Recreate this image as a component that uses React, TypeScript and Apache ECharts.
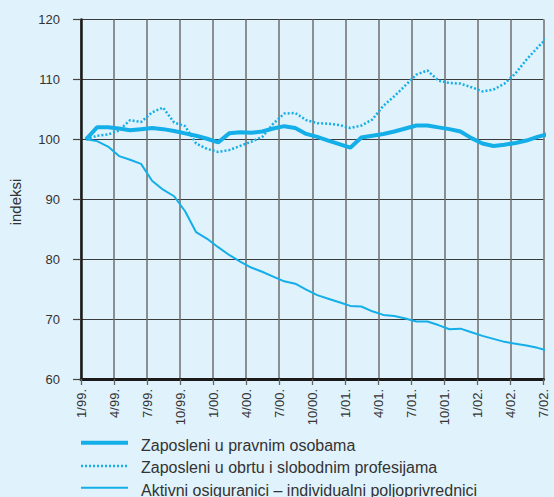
import React, { useEffect, useRef } from "react";
import * as echarts from "echarts";

const tickLabels = ["1/99.", "4/99.", "7/99.", "10/99.", "1/00.", "4/00.", "7/00.", "10/00.", "1/01.", "4/01.", "7/01.", "10/01.", "1/02.", "4/02.", "7/02."];

const seriesNames = [
  "Zaposleni u pravnim osobama",
  "Zaposleni u obrtu i slobodnim profesijama",
  "Aktivni osiguranici – individualni poljoprivrednici",
];

// monthly index values, 1/99. to 7/02.
const pravneOsobe = [
  100, 102, 102, 101.8, 101.5, 101.7, 101.9, 101.7, 101.4, 101.0,
  100.6, 100.1, 99.5, 101.0, 101.2, 101.1, 101.3, 101.8, 102.2, 101.9,
  100.9, 100.4, 99.8, 99.2, 98.6, 100.3, 100.6, 100.9, 101.3, 101.8,
  102.3, 102.3, 102.0, 101.7, 101.3, 100.2, 99.3, 98.9, 99.1, 99.4,
  99.8, 100.4, 100.9,
];

const obrt = [
  100, 100.6, 100.8, 101.5, 103.2, 102.9, 104.5, 105.3, 102.8, 102.2,
  99.3, 98.4, 97.9, 98.2, 98.9, 99.6, 100.4, 102.6, 104.3, 104.4,
  103.2, 102.7, 102.6, 102.4, 101.9, 102.3, 103.3, 105.6, 107.2, 109.0,
  110.8, 111.5, 109.8, 109.4, 109.3, 108.7, 108.0, 108.3, 109.3, 111.0,
  113.3, 115.3, 117.2,
];

const poljoprivrednici = [
  100, 99.7, 98.8, 97.2, 96.6, 95.9, 93.1, 91.6, 90.5, 88.0,
  84.5, 83.4, 82.0, 80.7, 79.6, 78.6, 77.9, 77.1, 76.3, 75.9,
  74.9, 74.0, 73.4, 72.8, 72.2, 72.1, 71.3, 70.7, 70.5, 70.1,
  69.6, 69.6, 69.0, 68.3, 68.4, 67.8, 67.2, 66.7, 66.2, 65.9,
  65.6, 65.2, 64.7,
];

const LINE = "#14aee8";
const BG = "#e0f2fb";
const MONTH_OFFSET = 5 / 11;

const toPairs = (arr: number[]) => arr.map((v, i) => [i + MONTH_OFFSET, v]);

export default function App() {
  const ref = useRef<HTMLDivElement>(null);
  useEffect(() => {
    if (!ref.current) return;
    const chart = echarts.init(ref.current, null, { renderer: "svg" });
    const font = "'Liberation Sans', Arial, sans-serif";
    const legendRows = [
      { y: 442.7, text: seriesNames[0], width: 4, dash: null as any, ty: 445 },
      { y: 466, text: seriesNames[1], width: 2.5, dash: [2, 2], ty: 467.5 },
      { y: 487.7, text: seriesNames[2], width: 2, dash: null as any, ty: 490 },
    ];
    const graphics: any[] = [
      {
        type: "text",
        x: 15,
        y: 202,
        rotation: Math.PI / 2,
        style: {
          text: "indeksi",
          fill: "#333",
          font: `15px ${font}`,
          align: "center",
          verticalAlign: "middle",
        },
      },
    ];
    legendRows.forEach((r) => {
      graphics.push({
        type: "line",
        shape: { x1: 81, y1: r.y, x2: 128, y2: r.y },
        style: { stroke: LINE, lineWidth: r.width, lineDash: r.dash || undefined },
      });
      graphics.push({
        type: "text",
        x: 141,
        y: r.ty,
        style: {
          text: r.text,
          fill: "#333",
          font: `16px ${font}`,
          align: "left",
          verticalAlign: "middle",
        },
      });
    });

    chart.setOption({
      animation: false,
      backgroundColor: BG,
      textStyle: { fontFamily: font },
      grid: { left: 81, top: 19.5, right: 10.5, bottom: 118, containLabel: false },
      xAxis: {
        type: "value",
        min: 0,
        max: 42,
        interval: 3,
        axisLine: { show: true, onZero: false, lineStyle: { color: "#1a1a1a", width: 3 } },
        axisTick: { show: true, length: 6, lineStyle: { color: "#666", width: 1.3 } },
        axisLabel: {
          rotate: 90,
          margin: 10,
          color: "#333",
          fontSize: 13,
          showMinLabel: true,
          showMaxLabel: true,
          formatter: (v: number) => tickLabels[Math.round(v / 3)] ?? "",
        },
        splitLine: { show: true, lineStyle: { color: "#6e6e6e", width: 1.5 } },
      },
      yAxis: {
        type: "value",
        min: 60,
        max: 120,
        interval: 10,
        axisLine: { show: true, onZero: false, lineStyle: { color: "#1a1a1a", width: 2.5 } },
        axisTick: { show: true, length: 8, lineStyle: { color: "#444", width: 1.2 } },
        axisLabel: { margin: 21, color: "#333", fontSize: 13 },
        splitLine: { show: true, lineStyle: { color: "#3a3a3a", width: 1.2 } },
      },
      series: [
        {
          name: seriesNames[1],
          type: "line",
          data: toPairs(obrt),
          showSymbol: false,
          symbol: "none",
          clip: false,
          lineStyle: { color: LINE, width: 2.5, type: [2, 2] },
        },
        {
          name: seriesNames[2],
          type: "line",
          data: toPairs(poljoprivrednici),
          showSymbol: false,
          symbol: "none",
          clip: false,
          lineStyle: { color: LINE, width: 2 },
        },
        {
          name: seriesNames[0],
          type: "line",
          data: toPairs(pravneOsobe),
          showSymbol: false,
          symbol: "none",
          clip: false,
          lineStyle: { color: LINE, width: 4 },
        },
      ],
      graphic: graphics,
    });
    return () => chart.dispose();
  }, []);

  return (
    <div
      ref={ref}
      style={{ position: "absolute", left: 0, top: 0, width: 554, height: 497, background: BG }}
    />
  );
}
